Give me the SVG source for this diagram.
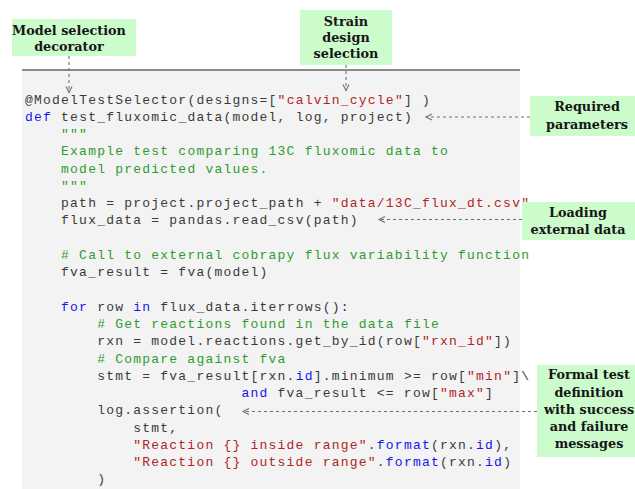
<svg xmlns="http://www.w3.org/2000/svg" width="635" height="489" viewBox="0 0 635 489">
<style>
.code{font-family:"Liberation Mono","DejaVu Sans Mono",monospace;font-size:13px;letter-spacing:1.22px;fill:#3a3a3a}
.k{fill:#1515ee}
.s{fill:#b02424}
.c{fill:#2e9c2e}
.lbl{font-family:"DejaVu Serif","Liberation Serif",serif;font-weight:bold;font-size:12.8px;fill:#151515;text-anchor:middle}
.box{fill:#ccfbcc}
.conn{stroke:#707070;stroke-width:1.1;stroke-dasharray:3 3;fill:none}
</style>
<defs>
<marker id="ah" markerUnits="userSpaceOnUse" markerWidth="10" markerHeight="10" viewBox="-8 -5 10 10" refX="0" refY="0" orient="auto">
<path d="M-6,-3 L0,0 L-6,3" fill="none" stroke="#707070" stroke-width="1.1"/>
</marker>
</defs>
<rect width="635" height="489" fill="#ffffff"/>
<g id="code-panel">
<rect x="22" y="70" width="498" height="419" fill="#f3f3f3"/>
<line x1="22" y1="70" x2="520" y2="70" stroke="#666666" stroke-width="1.6"/>
<g class="code">
<text x="25" y="103.5">@ModelTestSelector(designs=[<tspan class="s">"calvin_cycle"</tspan>] )</text>
<text x="25" y="120.8"><tspan class="k">def</tspan> test_fluxomic_data(model, log, project)</text>
<text x="61.08" y="138.0" class="c">"""</text>
<text x="61.08" y="155.3" class="c">Example test comparing 13C fluxomic data to</text>
<text x="61.08" y="172.6" class="c">model predicted values.</text>
<text x="61.08" y="189.9" class="c">"""</text>
<text x="61.08" y="207.1">path = project.project_path + <tspan class="s">"data/13C_flux_dt.csv"</tspan></text>
<text x="61.08" y="224.4">flux_data = pandas.read_csv(path)</text>
<text x="61.08" y="258.9" class="c"># Call to external cobrapy flux variability function</text>
<text x="61.08" y="276.2">fva_result = fva(model)</text>
<text x="61.08" y="310.7"><tspan class="k">for</tspan> row <tspan class="k">in</tspan> flux_data.iterrows():</text>
<text x="97.16" y="328.0" class="c"># Get reactions found in the data file</text>
<text x="97.16" y="345.3">rxn = model.reactions.get_by_id(row[<tspan class="s">"rxn_id"</tspan>])</text>
<text x="97.16" y="362.6" class="c"># Compare against fva</text>
<text x="97.16" y="379.8">stmt = fva_result[rxn.<tspan class="k">id</tspan>].minimum &gt;= row[<tspan class="s">"min"</tspan>]\</text>
<text x="241.48" y="397.1"><tspan class="k">and</tspan> fva_result &lt;= row[<tspan class="s">"max"</tspan>]</text>
<text x="97.16" y="414.4">log.assertion(</text>
<text x="133.24" y="431.6">stmt,</text>
<text x="133.24" y="448.9"><tspan class="s">"Reaction {} inside range"</tspan>.<tspan class="k">format</tspan>(rxn.<tspan class="k">id</tspan>),</text>
<text x="133.24" y="466.2"><tspan class="s">"Reaction {} outside range"</tspan>.<tspan class="k">format</tspan>(rxn.<tspan class="k">id</tspan>)</text>
<text x="97.16" y="483.4">)</text>
</g>
</g>
<g id="connectors">
<line class="conn" x1="69" y1="56" x2="69" y2="92.5" marker-end="url(#ah)"/>
<line class="conn" x1="346" y1="65" x2="346" y2="90.5" marker-end="url(#ah)"/>
<line class="conn" x1="530" y1="117" x2="426" y2="117" marker-end="url(#ah)"/>
<line class="conn" x1="522" y1="219.5" x2="379" y2="219.5" marker-end="url(#ah)"/>
<line class="conn" x1="537" y1="411.5" x2="243" y2="411.5" marker-end="url(#ah)"/>
</g>
<g id="model-selection-decorator">
<rect class="box" x="12" y="19" width="124" height="37"/>
<text class="lbl" x="69" y="34.5">Model selection</text>
<text class="lbl" x="69" y="51">decorator</text>
</g>
<g id="strain-design-selection">
<rect class="box" x="300" y="10" width="92" height="55"/>
<text class="lbl" x="346" y="26">Strain</text>
<text class="lbl" x="346" y="42">design</text>
<text class="lbl" x="346" y="58">selection</text>
</g>
<g id="required-parameters">
<rect class="box" x="530" y="96" width="105" height="40"/>
<text class="lbl" x="587" y="111">Required</text>
<text class="lbl" x="587" y="129">parameters</text>
</g>
<g id="loading-external-data">
<rect class="box" x="522" y="202" width="113" height="38"/>
<text class="lbl" x="578" y="217">Loading</text>
<text class="lbl" x="578" y="233.5">external data</text>
</g>
<g id="formal-test-definition">
<rect class="box" x="537" y="365" width="98" height="92"/>
<text class="lbl" x="589" y="379">Formal test</text>
<text class="lbl" x="589" y="396.5">definition</text>
<text class="lbl" x="589" y="414">with success</text>
<text class="lbl" x="589" y="431">and failure</text>
<text class="lbl" x="589" y="448">messages</text>
</g>
</svg>
